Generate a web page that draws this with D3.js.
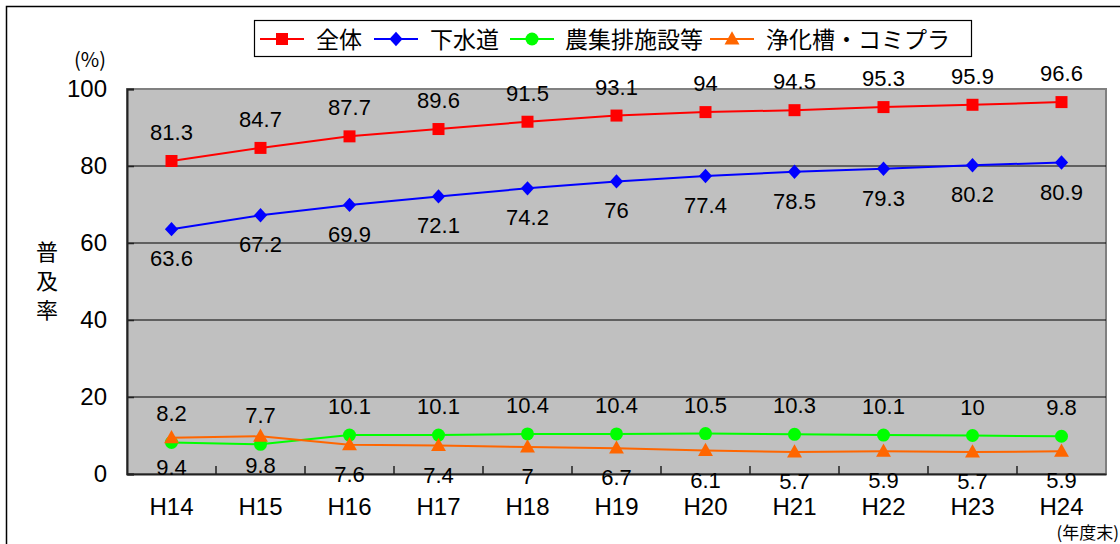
<!DOCTYPE html>
<html><head><meta charset="utf-8">
<script src="https://cdn.jsdelivr.net/npm/d3@7"></script>
<style>
html,body{margin:0;padding:0;background:#fff;}
svg{display:block;font-family:"Liberation Sans","Noto Sans CJK JP",sans-serif;}
.jp{font-family:"Noto Sans CJK JP",sans-serif;}
</style></head><body>
<svg id="c" width="1120" height="544"></svg>
<script>
const categories = ["H14","H15","H16","H17","H18","H19","H20","H21","H22","H23","H24"];
const zentai   = [81.3,84.7,87.7,89.6,91.5,93.1,94,94.5,95.3,95.9,96.6];
const gesuido  = [63.6,67.2,69.9,72.1,74.2,76,77.4,78.5,79.3,80.2,80.9];
const noshu    = [8.2,7.7,10.1,10.1,10.4,10.4,10.5,10.3,10.1,10,9.8];
const johkaso  = [9.4,9.8,7.6,7.4,7,6.7,6.1,5.7,5.9,5.7,5.9];
const yTicks   = [0,20,40,60,80,100];
const seriesNames = ["全体","下水道","農集排施設等","浄化槽・コミプラ"];

const series = [
  {name:seriesNames[0], values:zentai,  color:"#ff0000", marker:"square",   labelPos:"above"},
  {name:seriesNames[1], values:gesuido, color:"#0000ff", marker:"diamond",  labelPos:"below"},
  {name:seriesNames[2], values:noshu,   color:"#00ff00", marker:"circle",   labelPos:"above"},
  {name:seriesNames[3], values:johkaso, color:"#ff6600", marker:"triangle", labelPos:"below"}
];

const svg = d3.select("#c");
const L=127, R=1106, T=89, B=474;
const x = d3.scaleBand().domain(categories).range([L,R]).padding(0);
const y = d3.scaleLinear().domain([0,100]).range([B,T]);

// outer chart border
svg.append("rect").attr("x",6.5).attr("y",6.5).attr("width",1130).attr("height",560)
  .attr("fill","none").attr("stroke","#000").attr("stroke-width",1.5);

// plot area
svg.append("rect").attr("x",L).attr("y",T).attr("width",R-L).attr("height",B-T)
  .attr("fill","#c0c0c0").attr("stroke","#808080").attr("stroke-width",2);

// gridlines
svg.append("g").selectAll("line").data(yTicks.filter(d=>d>0&&d<100)).join("line")
  .attr("x1",L).attr("x2",R).attr("y1",d=>y(d)).attr("y2",d=>y(d))
  .attr("stroke","#000").attr("stroke-width",1);

// y axis
const yAxis = d3.axisLeft(y).tickValues(yTicks).tickSize(-7).tickPadding(20);
const gy = svg.append("g").attr("transform",`translate(${L},0)`).call(yAxis);
gy.select(".domain").attr("stroke","#222").attr("stroke-width",2);
gy.selectAll(".tick line").attr("stroke","#222").attr("stroke-width",1.5);
gy.selectAll("text").attr("font-size",24).attr("fill","#000").attr("font-family","Liberation Sans, sans-serif");

// x axis
const xAxis = d3.axisBottom(x).tickSize(0).tickPadding(24);
const gx = svg.append("g").attr("transform",`translate(0,${B})`).call(xAxis);
gx.select(".domain").attr("stroke","#222").attr("stroke-width",2);
gx.selectAll("text").attr("font-size",24).attr("fill","#000").attr("font-family","Liberation Sans, sans-serif");
// category boundary ticks (inward)
svg.append("g").selectAll("line").data(categories.slice(1)).join("line")
  .attr("x1",d=>x(d)).attr("x2",d=>x(d)).attr("y1",B).attr("y2",B-8)
  .attr("stroke","#222").attr("stroke-width",1.5);

// axis titles
svg.append("text").attr("x",90).attr("y",67).attr("text-anchor","middle")
  .attr("font-size",20).attr("class","jp").text("(%)");
svg.append("text").attr("class","jp").attr("font-size",22)
  .attr("x",47).attr("y",241)
  .style("writing-mode","vertical-rl").style("letter-spacing","7px")
  .text("普及率");
svg.append("text").attr("x",1119).attr("y",539).attr("text-anchor","end")
  .attr("font-size",17).attr("class","jp").text("(年度末)");

// markers
function drawMarker(g, type, cx, cy, color, s){
  if(type==="square") g.append("rect").attr("x",cx-s/2).attr("y",cy-s/2).attr("width",s).attr("height",s).attr("fill",color);
  else if(type==="diamond") g.append("path").attr("d",`M${cx},${cy-s*0.6}L${cx+s*0.55},${cy}L${cx},${cy+s*0.6}L${cx-s*0.55},${cy}Z`).attr("fill",color);
  else if(type==="circle") g.append("circle").attr("cx",cx).attr("cy",cy).attr("r",s/2+0.5).attr("fill",color);
  else if(type==="triangle") g.append("path").attr("d",`M${cx},${cy-s*0.65}L${cx+s*0.62},${cy+s*0.45}L${cx-s*0.62},${cy+s*0.45}Z`).attr("fill",color);
}

const line = d3.line().x((d,i)=>x(categories[i])+x.bandwidth()/2).y(d=>y(d));
series.forEach(s=>{
  const g = svg.append("g");
  g.append("path").datum(s.values).attr("d",line).attr("fill","none")
    .attr("stroke",s.color).attr("stroke-width",2);
  s.values.forEach((v,i)=>{
    const cx = x(categories[i])+x.bandwidth()/2, cy=y(v);
    drawMarker(g, s.marker, cx, cy, s.color, 12);
  });
});
// labels on top
series.forEach(s=>{
  const g = svg.append("g");
  s.values.forEach((v,i)=>{
    const cx = x(categories[i])+x.bandwidth()/2, cy=y(v);
    g.append("text").attr("x",cx).attr("y", s.labelPos==="above"? cy-21 : cy+37)
      .attr("text-anchor","middle").attr("font-size",22).attr("fill","#000").text(v);
  });
});

// legend
const lg = svg.append("g");
lg.append("rect").attr("x",254.5).attr("y",20.5).attr("width",717).attr("height",36)
  .attr("fill","#fff").attr("stroke","#000").attr("stroke-width",1.2);
const legX = [[260,316],[374,430],[510,565],[710,766]];
series.forEach((s,i)=>{
  const [lx,tx]=legX[i];
  const cy=39;
  lg.append("line").attr("x1",lx).attr("x2",lx+44).attr("y1",cy).attr("y2",cy).attr("stroke",s.color).attr("stroke-width",2);
  drawMarker(lg, s.marker, lx+22, cy, s.color, 12);
  lg.append("text").attr("x",tx).attr("y",cy+8.5).attr("class","jp").attr("font-size",23).attr("fill","#000").text(s.name);
});
</script>
</body></html>
